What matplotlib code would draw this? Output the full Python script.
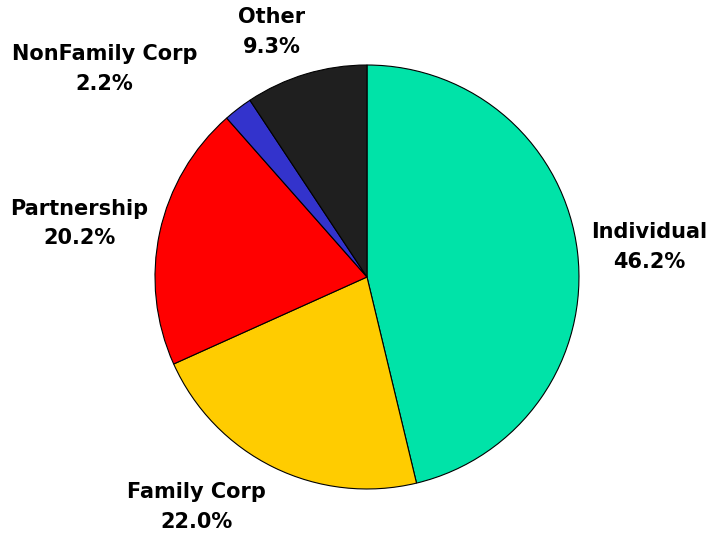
import numpy as np
import matplotlib
matplotlib.use("Agg")
import matplotlib.pyplot as plt

categories = ["Individual", "Family Corp", "Partnership", "NonFamily Corp", "Other"]
values = [46.2, 22.0, 20.2, 2.2, 9.3]
colors = ["#00E3A8", "#FFCC00", "#FF0000", "#3333CC", "#1F1F1F"]

# label placement tweaks (distance in radii, angle offset in degrees)
label_dist = [1.34, 1.35, 1.38, 1.58, 1.24]
label_dang = [-0.7, -10.4, 1.6, 14.1, 4.5]

fig = plt.figure(figsize=(7.11, 5.35), dpi=100)
ax = fig.add_axes([0.218, 0.086, 0.5963, 0.7925])
wedges, _ = ax.pie(values, colors=colors, startangle=90, counterclock=False,
                   wedgeprops=dict(edgecolor="black", linewidth=0.8))
ax.set_xlim(-1, 1)
ax.set_ylim(-1, 1)
ax.set_aspect("equal")
ax.axis("off")

for w, cat, v, d, da in zip(wedges, categories, values, label_dist, label_dang):
    mid = np.deg2rad((w.theta1 + w.theta2) / 2 + da)
    x, y = d * np.cos(mid), d * np.sin(mid)
    ax.text(x, y, f"{cat}\n{v:.1f}%", ha="center", va="center",
            fontsize=15, fontweight="bold", family="DejaVu Sans",
            linespacing=1.6, clip_on=False)

fig.savefig("out.png", dpi=100)
